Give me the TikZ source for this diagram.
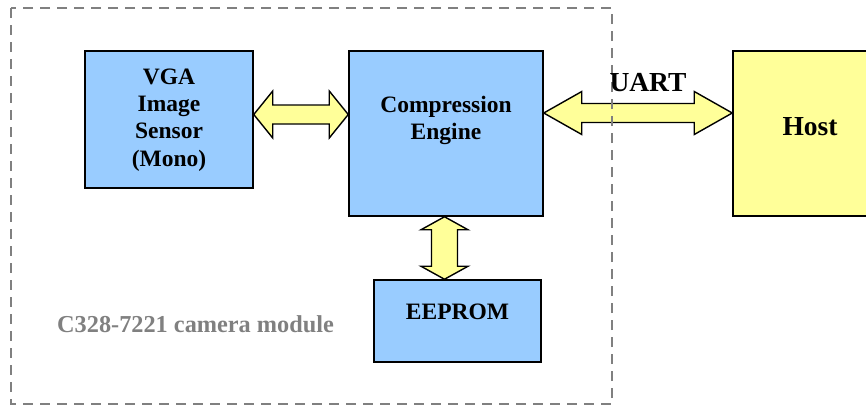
\documentclass[tikz,border=0pt]{standalone}
\usepackage{fontspec}
\setmainfont{Liberation Serif}
\usetikzlibrary{calc}
\definecolor{boxblue}{RGB}{153,204,255}
\definecolor{boxyellow}{RGB}{255,255,153}
\definecolor{framegray}{RGB}{128,128,128}
\tikzset{
    blk/.style={draw=black, line width=1.5pt, fill=boxblue, inner sep=0pt},
    lbl/.style={inner sep=0pt, align=center, font=\fontsize{23.5}{27.3}\selectfont\bfseries},
    biglbl/.style={inner sep=0pt, font=\fontsize{27.5}{32}\selectfont\bfseries},
    % head length, head half width, shaft half width
    fatarrow/.style n args={3}{draw=black, fill=boxyellow, line width=1.4pt, line join=miter,
        to path={
            -- ($(\tikztostart)!#1!(\tikztotarget)!#2!90:(\tikztotarget)$)
            -- ($(\tikztostart)!#1!(\tikztotarget)!#3!90:(\tikztotarget)$)
            -- ($(\tikztotarget)!#1!(\tikztostart)!#3!-90:(\tikztostart)$)
            -- ($(\tikztotarget)!#1!(\tikztostart)!#2!-90:(\tikztostart)$)
            -- (\tikztotarget)
            -- ($(\tikztotarget)!#1!(\tikztostart)!#2!90:(\tikztostart)$)
            -- ($(\tikztotarget)!#1!(\tikztostart)!#3!90:(\tikztostart)$)
            -- ($(\tikztostart)!#1!(\tikztotarget)!#3!-90:(\tikztotarget)$)
            -- ($(\tikztostart)!#1!(\tikztotarget)!#2!-90:(\tikztotarget)$)
            -- cycle}},
}
\begin{document}
\begin{tikzpicture}[x=1pt, y=-1pt]
    \useasboundingbox (0,0) rectangle (866,405);
    \clip (0,0) rectangle (866,405);
    % blocks
    \node[blk, minimum width=168pt, minimum height=137pt] (vga) at (169,119.5) {};
    \node[blk, minimum width=194pt, minimum height=165pt] (eng) at (446,133.5) {};
    \node[blk, minimum width=167pt, minimum height=82pt] (eep) at (457.5,321) {};
    \node[blk, fill=boxyellow, minimum width=154pt, minimum height=165pt] (host) at (810,133.5) {};
    % ports
    \coordinate (vgaport) at ([yshift=5pt]vga.east);
    \coordinate (engportw) at (eng.west |- vgaport);
    \coordinate (engporte) at ([yshift=20.5pt]eng.east);
    \coordinate (hostport) at (host.west |- engporte);
    \coordinate (engports) at ([xshift=-1.5pt]eng.south);
    \coordinate (eepport) at (eep.north -| engports);
    % buses
    \draw[fatarrow={19pt}{23.5pt}{9.5pt}] (vgaport) to (engportw);
    \draw[fatarrow={38pt}{21.5pt}{9.5pt}] (engporte) to (hostport);
    \draw[fatarrow={13pt}{23.5pt}{13pt}] (engports) to (eepport);
    % module outline
    \draw[framegray, line width=1.8pt, dash pattern=on 10pt off 7pt] (11,8) rectangle (612,404);
    % texts
    \node[lbl, anchor=north] (vgatxt) at (169,68.5) {VGA\\Image\\Sensor\\(Mono)};
    \node[lbl, anchor=north] (engtxt) at (446,95.5) {Compression\\Engine};
    \node[lbl, anchor=base] (eeptxt) at (457.5,319) {EEPROM};
    \node[biglbl, anchor=base] (uarttxt) at (648,91) {UART};
    \node[biglbl, anchor=base] (hosttxt) at (810,135) {Host};
    \node[lbl, anchor=base west, text=framegray, font=\fontsize{24.3}{28}\selectfont\bfseries] (modtxt) at (57,332) {C328-7221 camera module};
\end{tikzpicture}
\end{document}
